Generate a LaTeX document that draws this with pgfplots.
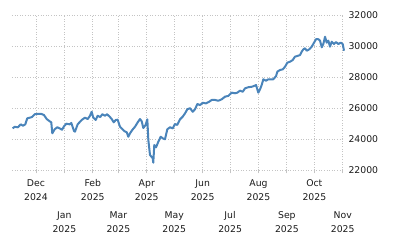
\documentclass[border=0pt]{standalone}
\usepackage{pgfplots}
\pgfplotsset{compat=1.18}
\usepackage{fontspec}
\setmainfont{DejaVu Sans}
\definecolor{lineblue}{HTML}{4A84BA}
\definecolor{gridc}{HTML}{C4C4C4}
\definecolor{txt}{HTML}{1A1A1A}
\begin{document}
\begin{tikzpicture}
\useasboundingbox (-12pt,-79.7pt) rectangle (388pt,170.3pt);
\begin{axis}[
  at={(0,0)}, anchor=south west,
  scale only axis,
  width=331pt, height=155.3pt,
  xmin=-26.2, xmax=335.3,
  ymin=22000, ymax=32000,
  clip=false,
  axis line style={draw=none},
  ytick={22000,24000,26000,28000,30000,32000},
  scaled y ticks=false,
  yticklabel pos=right,
  ytick style={draw=none},
  /pgf/number format/fixed,
  /pgf/number format/set thousands separator={},
  /pgf/number format/assume math mode=true,
  yticklabel style={anchor=west, xshift=-1pt, text=txt, font=\fontsize{9.3}{13}\selectfont},
  xtick={0,62,121,182,243,304},
  xticklabels={{Dec\\[0.5pt]2024},{Feb\\[0.5pt]2025},{Apr\\[0.5pt]2025},{Jun\\[0.5pt]2025},{Aug\\[0.5pt]2025},{Oct\\[0.5pt]2025}},
  extra x ticks={31,90,151,212,274,335},
  extra x tick labels={{Jan\\[0.5pt]2025},{Mar\\[0.5pt]2025},{May\\[0.5pt]2025},{Jul\\[0.5pt]2025},{Sep\\[0.5pt]2025},{Nov\\[0.5pt]2025}},
  extra x tick style={grid=major, xticklabel style={yshift=-32pt}},
  xticklabel style={align=center, yshift=-3pt, text=txt, font=\fontsize{9.3}{13}\selectfont},
  xtick pos=bottom,
  tick align=outside,
  major tick length=3pt,
  x tick style={gridc, line width=0.8pt},
  grid=major,
  major grid style={gridc, line width=0.8pt, dash pattern=on 1pt off 1.6pt},
]
\addplot[lineblue, line width=2pt, line join=round] coordinates {
(-25.5,24700) (-23.3,24800) (-19.7,24770) (-16.7,24960) (-14.2,24870) (-11.7,24960) (-9.5,25350) (-6.6,25390) (-4.4,25430) (-1.4,25610) (2.2,25630) (5.8,25630) (8.7,25560) (11.7,25300) (14.5,25175) (16.7,25090) (17.8,24380) (20.4,24640) (23.3,24770) (25.9,24700) (28.4,24610) (30.6,24830) (33.1,25000) (36.8,24960) (38.6,25050) (41.5,24530) (42.6,24490) (45.5,24960) (49.9,25240) (53.5,25390) (56.5,25300) (59.0,25515) (60.8,25770) (62.6,25390) (65.2,25240) (67.4,25515) (70.2,25430) (72.4,25610) (75.4,25515) (77.6,25610) (80.5,25450) (82.7,25300) (84.9,25090) (87.1,25240) (89.2,25260) (91.8,24800) (93.6,24700) (96.4,24530) (99.1,24450) (100.8,24160) (102.7,24380) (105.2,24600) (108.1,24800) (111.1,25090) (113.6,25300) (115.5,25150) (117.2,24720) (119.5,24900) (121.6,25280) (122.7,23950) (124.5,22990) (127.5,22770) (128.1,22490) (129.2,23630) (131.1,23480) (133.6,23840) (136.2,24160) (138.4,24060) (140.9,24000) (143.4,24640) (146.4,24770) (149.3,24700) (151.8,24980) (154.3,24920) (157.3,25280) (160.2,25450) (162.8,25670) (165.3,25930) (168.2,26000) (171.2,25770) (173.7,25930) (176.2,26270) (179.1,26200) (182.1,26350) (185.7,26310) (189.3,26420) (191.9,26530) (195.5,26530) (199.1,26480) (202.8,26570) (206.4,26740) (210.0,26790) (213.8,27000) (217.4,26960) (219.9,27000) (222.8,27130) (225.8,27060) (228.3,27280) (231.9,27350) (235.6,27380) (238.1,27430) (240.3,27490) (241.7,27220) (242.8,27000) (244.7,27220) (246.5,27490) (248.3,27860) (251.2,27770) (253.7,27860) (256.4,27860) (259.2,27860) (262.2,28070) (263.6,28350) (266.5,28460) (269.5,28500) (272.0,28670) (274.5,28930) (277.4,28990) (280.4,29100) (282.9,29320) (285.4,29360) (288.4,29420) (290.2,29640) (292.0,29790) (293.8,29860) (295.7,29700) (298.5,29790) (301.1,29960) (303.7,30220) (305.8,30440) (308.4,30440) (310.2,30350) (312.1,29920) (313.8,30130) (315.7,30600) (317.5,30220) (319.3,30350) (321.1,29960) (323.0,30280) (325.5,30130) (327.7,30260) (330.2,30130) (332.8,30220) (335.0,30130) (336.4,29700)
};
\end{axis}
\end{tikzpicture}
\end{document}
